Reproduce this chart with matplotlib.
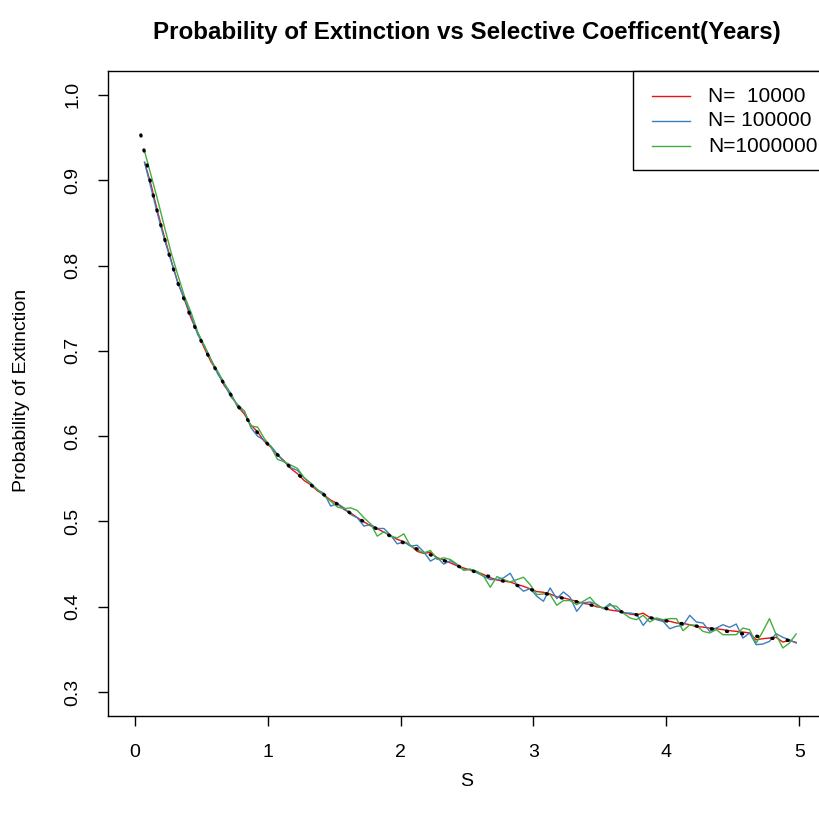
import matplotlib
matplotlib.use("Agg")
import matplotlib.pyplot as plt
from matplotlib.patches import Rectangle

plt.rcParams['font.family'] = ['Liberation Sans', 'DejaVu Sans']

# simulated grid of selective coefficients
s_grid = [0.075, 0.125, 0.175, 0.225, 0.275, 0.325, 0.375, 0.425, 0.475, 0.525,
          0.575, 0.625, 0.675, 0.725, 0.775, 0.825, 0.875, 0.925, 0.975, 1.025,
          1.075, 1.125, 1.175, 1.225, 1.275, 1.325, 1.375, 1.425, 1.475, 1.525,
          1.575, 1.625, 1.675, 1.725, 1.775, 1.825, 1.875, 1.925, 1.975, 2.025,
          2.075, 2.125, 2.175, 2.225, 2.275, 2.325, 2.375, 2.425, 2.475, 2.525,
          2.575, 2.625, 2.675, 2.725, 2.775, 2.825, 2.875, 2.925, 2.975, 3.025,
          3.075, 3.125, 3.175, 3.225, 3.275, 3.325, 3.375, 3.425, 3.475, 3.525,
          3.575, 3.625, 3.675, 3.725, 3.775, 3.825, 3.875, 3.925, 3.975, 4.025,
          4.075, 4.125, 4.175, 4.225, 4.275, 4.325, 4.375, 4.425, 4.475, 4.525,
          4.575, 4.625, 4.675, 4.725, 4.775, 4.825, 4.875, 4.925, 4.975]

p_n1e4 = [0.921, 0.894, 0.862, 0.833, 0.806, 0.780, 0.760, 0.738, 0.721, 0.703,
          0.687, 0.675, 0.659, 0.649, 0.635, 0.626, 0.613, 0.605, 0.594, 0.587,
          0.578, 0.571, 0.562, 0.556, 0.548, 0.543, 0.536, 0.531, 0.525, 0.521,
          0.514, 0.510, 0.5045, 0.4995, 0.4950, 0.4915, 0.4875, 0.4835, 0.4790, 0.4765,
          0.4720, 0.4650, 0.4625, 0.4640, 0.4575, 0.4550, 0.4515, 0.4480, 0.4455, 0.4430,
          0.4410, 0.4378, 0.4340, 0.4315, 0.4300, 0.4290, 0.4262, 0.4240, 0.4210, 0.4178,
          0.4170, 0.4150, 0.4118, 0.4105, 0.4085, 0.4062, 0.4040, 0.4028, 0.4000, 0.3990,
          0.3962, 0.3952, 0.3935, 0.3915, 0.3905, 0.3925, 0.3875, 0.3860, 0.3835, 0.3830,
          0.3810, 0.3805, 0.3790, 0.3768, 0.3762, 0.3750, 0.3743, 0.3732, 0.3720, 0.3712,
          0.3704, 0.3693, 0.3614, 0.3626, 0.3634, 0.3642, 0.3587, 0.3603, 0.3583]

p_n1e5 = [0.921, 0.890, 0.859, 0.830, 0.805, 0.780, 0.761, 0.741, 0.719, 0.706,
          0.690, 0.673, 0.661, 0.646, 0.637, 0.6295, 0.6099, 0.6000, 0.5951, 0.5884,
          0.5786, 0.5700, 0.5630, 0.5599, 0.5513, 0.5450, 0.5370, 0.5330, 0.5180, 0.5210,
          0.5160, 0.5082, 0.5043, 0.4945, 0.4965, 0.4918, 0.4918, 0.4840, 0.4738, 0.4760,
          0.4711, 0.4722, 0.4644, 0.4535, 0.4580, 0.4500, 0.4540, 0.4490, 0.4430, 0.4440,
          0.4397, 0.4358, 0.4319, 0.4319, 0.4339, 0.4393, 0.4252, 0.4182, 0.4213, 0.4123,
          0.4065, 0.4221, 0.4096, 0.4174, 0.4112, 0.3947, 0.4045, 0.4057, 0.4030, 0.3978,
          0.4037, 0.3966, 0.3927, 0.3927, 0.3915, 0.3782, 0.3876, 0.3849, 0.3829, 0.3743,
          0.3771, 0.3782, 0.3900, 0.3822, 0.3810, 0.3712, 0.3751, 0.3790, 0.3759, 0.3798,
          0.3634, 0.3693, 0.3556, 0.3563, 0.3595, 0.3685, 0.3642, 0.3614, 0.3575]

p_n1e6 = [0.934, 0.905, 0.876, 0.845, 0.815, 0.789, 0.764, 0.745, 0.722, 0.706,
          0.689, 0.676, 0.662, 0.650, 0.634, 0.6295, 0.6119, 0.6107, 0.5974, 0.5873,
          0.5728, 0.5700, 0.5661, 0.5622, 0.5513, 0.5440, 0.5376, 0.5300, 0.5238, 0.5170,
          0.5150, 0.5160, 0.5129, 0.5043, 0.4973, 0.4828, 0.4879, 0.4828, 0.4808, 0.4855,
          0.4711, 0.4671, 0.4632, 0.4660, 0.4554, 0.4574, 0.4554, 0.4500, 0.4430, 0.4440,
          0.4417, 0.4358, 0.4229, 0.4354, 0.4319, 0.4292, 0.4319, 0.4346, 0.4260, 0.4143,
          0.4151, 0.4143, 0.4018, 0.4073, 0.4073, 0.4025, 0.4065, 0.4112, 0.4020, 0.3978,
          0.4017, 0.4006, 0.3927, 0.3869, 0.3849, 0.3900, 0.3822, 0.3869, 0.3849, 0.3861,
          0.3861, 0.3720, 0.3790, 0.3782, 0.3712, 0.3693, 0.3732, 0.3673, 0.3673, 0.3673,
          0.3751, 0.3732, 0.3575, 0.3712, 0.3861, 0.3673, 0.3517, 0.3575, 0.3681]

# theoretical curve (black dotted)
s_theory = [0.047, 0.068, 0.093, 0.115, 0.14, 0.168, 0.198, 0.23, 0.263, 0.296,
            0.333, 0.373, 0.416, 0.461, 0.508, 0.561, 0.65, 0.75, 0.807, 0.877,
            0.952, 1.03, 1.111, 1.195, 1.283, 1.4, 1.5, 1.667, 1.765, 1.87,
            1.97, 2.078, 2.186, 2.296, 2.45, 2.624, 2.735, 2.85, 2.962, 3.075,
            3.186, 3.301, 3.417, 3.526, 3.642, 3.759, 3.875, 3.988, 4.105, 4.221,
            4.334, 4.454, 4.567, 4.682, 4.797, 4.915, 4.975]
p_theory = [0.953, 0.937, 0.919, 0.901, 0.8825, 0.865, 0.847, 0.829, 0.811, 0.794,
            0.776, 0.760, 0.742, 0.725, 0.709, 0.692, 0.667, 0.642, 0.6286, 0.6134,
            0.5989, 0.5857, 0.5723, 0.5599, 0.548, 0.534, 0.523, 0.505, 0.496, 0.4874,
            0.4789, 0.4707, 0.4636, 0.4561, 0.4466, 0.4378, 0.4319, 0.4264, 0.4209, 0.4162,
            0.4115, 0.4068, 0.4026, 0.3986, 0.3947, 0.3912, 0.3873, 0.3838, 0.3806, 0.3775,
            0.3744, 0.3712, 0.3685, 0.3654, 0.3630, 0.3607, 0.3596]

labels = ['N=  10000', 'N= 100000', 'N=1000000']
colors = ['#EE1111', '#3D7DC2', '#44AD3E']

W, H = 819, 814
fig = plt.figure(figsize=(W / 100, H / 100), dpi=100)
ax = fig.add_axes([108 / W, (H - 716) / H, 718 / W, 645 / H])

for ys, c in zip([p_n1e4, p_n1e5, p_n1e6], colors):
    ax.plot(s_grid, ys, color=c, lw=1.0)

# R-style dotted line: round dots about every 15 px
ax.plot(s_theory, p_theory, color='black', lw=2.4,
        linestyle=(0, (0.3, 4.3)), dash_capstyle='round', zorder=4)

ax.set_xlim(-0.2, 5.2)
ax.set_ylim(0.272, 1.028)
ax.set_xticks([0, 1, 2, 3, 4, 5])
ax.set_yticks([0.3, 0.4, 0.5, 0.6, 0.7, 0.8, 0.9, 1.0])
ax.set_yticklabels(['0.3', '0.4', '0.5', '0.6', '0.7', '0.8', '0.9', '1.0'])

for sp in ax.spines.values():
    sp.set_linewidth(1.0)
ax.tick_params(direction='out', length=7, width=1.0, labelsize=14, color='black')
ax.tick_params(axis='x', pad=13)
ax.tick_params(axis='y', pad=12, labelrotation=90)
for lab in ax.get_yticklabels():
    lab.set_va('center')

# legend box drawn like the R legend (top right)
ax.add_patch(Rectangle((0.7312, 0.8465), 0.2688, 0.1535, transform=ax.transAxes,
                       facecolor='white', edgecolor='black', lw=1.0, zorder=5, clip_on=False))
rows = [0.9612, 0.9225, 0.8837]
for lab, c, ry in zip(labels, colors, rows):
    ax.plot([0.757, 0.8106], [ry, ry], color=c, lw=1.0, transform=ax.transAxes, zorder=6)
    ax.text(0.8357, ry, lab, transform=ax.transAxes, fontsize=15, va='center',
            ha='left', zorder=6)

fig.text(467 / W, 1 - 33 / H, 'Probability of Extinction vs Selective Coefficent(Years)',
         ha='center', va='center', fontsize=17.4, fontweight='bold')
fig.text(467 / W, 1 - 782 / H, 'S', ha='center', va='center', fontsize=14)
fig.text(22 / W, 1 - 390 / H, 'Probability of Extinction', ha='center', va='center',
         rotation=90, fontsize=14)

fig.savefig('out.png', dpi=100)
